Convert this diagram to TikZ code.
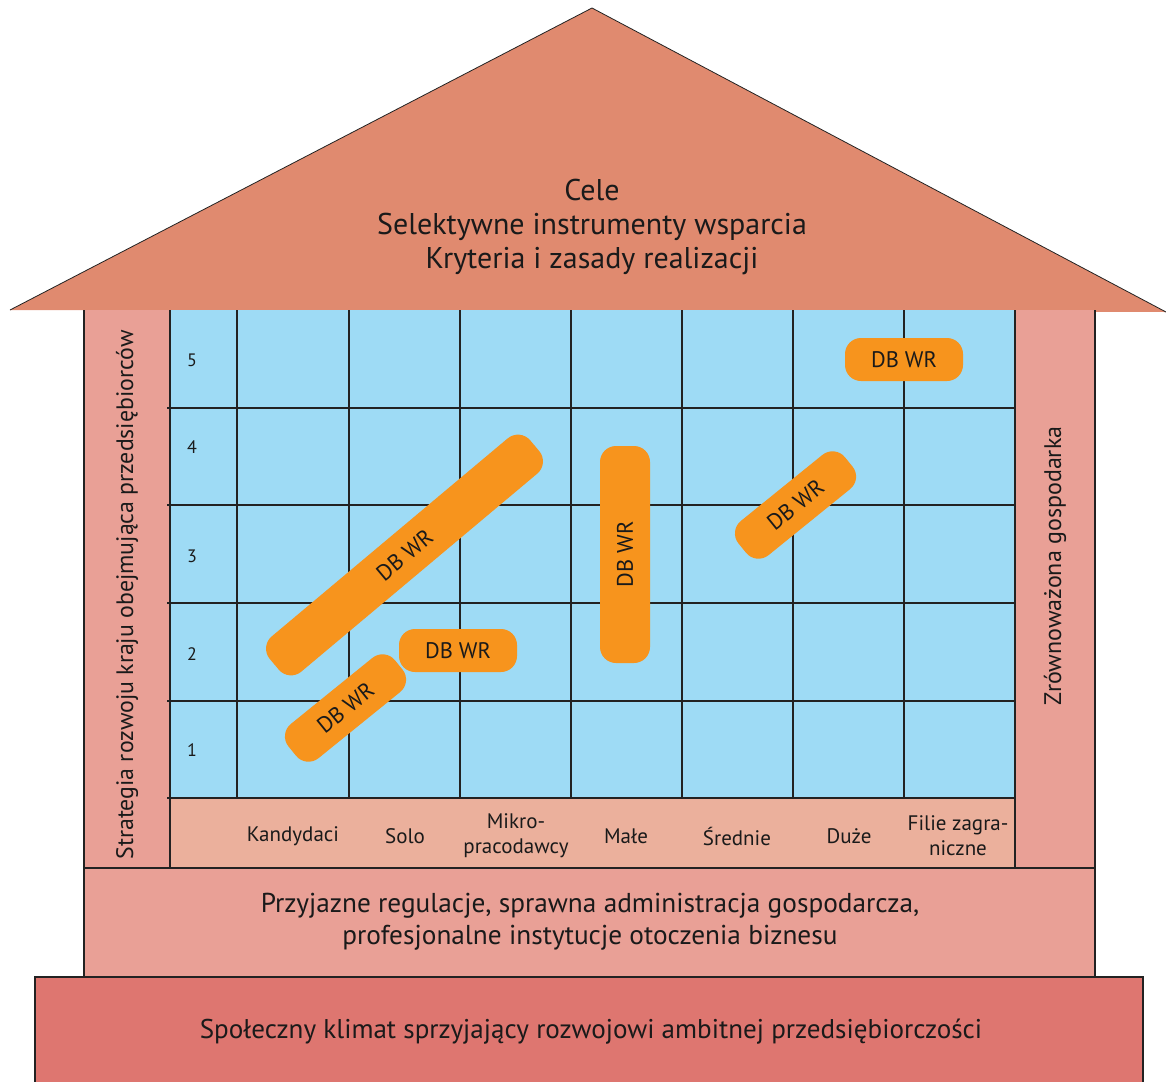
\documentclass[tikz,border=0pt]{standalone}
\usepackage{fontspec}
\setmainfont{PT Sans}
\definecolor{roofc}{HTML}{E08A6F}
\definecolor{pillarc}{HTML}{E9A096}
\definecolor{stripc}{HTML}{EBB09C}
\definecolor{basec}{HTML}{DE7670}
\definecolor{gridc}{HTML}{9EDBF5}
\definecolor{pillc}{HTML}{F7941D}
\definecolor{linec}{HTML}{222222}
\definecolor{txtc}{HTML}{1A1A1A}
\begin{document}
\begin{tikzpicture}[x=1pt,y=-1pt,
  frame/.style={draw=linec, line width=1.3pt},
  gridline/.style={draw=linec, line width=1.6pt},
  pill/.style={fill=pillc, rounded corners=16pt, inner sep=0pt, text=txtc,
    font=\fontsize{22.5}{24}\selectfont},
  collbl/.style={font=\fontsize{21}{25}\selectfont, align=center, text=txtc},
  rowlbl/.style={font=\fontsize{18}{20}\selectfont, text=txtc},
  bigtxt/.style={align=center, text=txtc}]
\useasboundingbox (0,0) rectangle (1166,1081);
% roof
\fill[roofc] (592,8) -- (1166,312) -- (10,310) -- cycle;
\draw[draw=linec, line width=0.8pt] (10,310) -- (592,8) -- (1166,312);
% pillars
\fill[pillarc] (84,310) rectangle (170,868);
\fill[pillarc] (1015,310) rectangle (1095,868);
\draw[frame] (84,310) -- (84,868);
\draw[frame] (1095,310) -- (1095,868);
% grid and strip
\fill[gridc] (170,310) rectangle (1015,798);
\fill[stripc] (170,798) rectangle (1015,868);
% middle band and base
\fill[pillarc] (84,868) rectangle (1095,977);
\draw[frame] (84,868) rectangle (1095,977);
\fill[basec] (35,977) rectangle (1143,1085);
\draw[frame] (35,1085) -- (35,977) -- (1143,977) -- (1143,1085);
% grid lines
\draw[gridline] (170,310) -- (170,868);
\draw[gridline] (1015,310) -- (1015,868);
\foreach \x in {237,349,460,571,682,793,904} \draw[gridline] (\x,310) -- (\x,798);
\foreach \y in {408,505,603,701,798} \draw[gridline] (167,\y) -- (1015,\y);
% roof text
\node[bigtxt, font=\fontsize{30}{34}\selectfont] (roof) at (592,227)
  {Cele\\Selektywne instrumenty wsparcia\\Kryteria i zasady realizacji};
% side texts
\node[bigtxt, font=\fontsize{23.8}{28}\selectfont, rotate=90] (left) at (127,595)
  {Strategia rozwoju kraju obejmująca przedsiębiorców};
\node[bigtxt, font=\fontsize{24}{28}\selectfont, rotate=90] (right) at (1055,566)
  {Zrównoważona gospodarka};
% bands text
\node[bigtxt, font=\fontsize{27.3}{32}\selectfont] (mid) at (590,922)
  {Przyjazne regulacje, sprawna administracja gospodarcza,\\profesjonalne instytucje otoczenia biznesu};
\node[bigtxt, font=\fontsize{27.1}{32}\selectfont] (base) at (591,1032)
  {Społeczny klimat sprzyjający rozwojowi ambitnej przedsiębiorczości};
% row labels
\node[rowlbl] (r5) at (192,360) {5};
\node[rowlbl] (r4) at (192,447) {4};
\node[rowlbl] (r3) at (192,556) {3};
\node[rowlbl] (r2) at (192,654) {2};
\node[rowlbl] (r1) at (192,750) {1};
% column labels
\node[collbl] (c1) at (293,836) {Kandydaci};
\node[collbl] (c2) at (405,836) {Solo};
\node[collbl] (c3) at (516,836) {Mikro-\\pracodawcy};
\node[collbl] (c4) at (626,836) {Małe};
\node[collbl] (c5) at (737,836) {Średnie};
\node[collbl] (c6) at (849,836) {Duże};
\node[collbl] (c7) at (958,836) {Filie zagra-\\niczne};
% pills
\node[pill, minimum width=340pt, minimum height=46pt, rotate=40] (p1) at (404.5,555) {DB WR};
\node[pill, minimum width=137pt, minimum height=44pt, rotate=39] (p2) at (345.5,708) {DB WR};
\node[pill, minimum width=118pt, minimum height=43pt] (p3) at (458,650.5) {DB WR};
\node[pill, minimum width=217pt, minimum height=50pt, rotate=90] (p4) at (625,554.5) {DB WR};
\node[pill, minimum width=137pt, minimum height=44pt, rotate=39] (p5) at (795.5,505) {DB WR};
\node[pill, minimum width=118pt, minimum height=43pt] (p6) at (904,359.5) {DB WR};
\end{tikzpicture}
\end{document}
